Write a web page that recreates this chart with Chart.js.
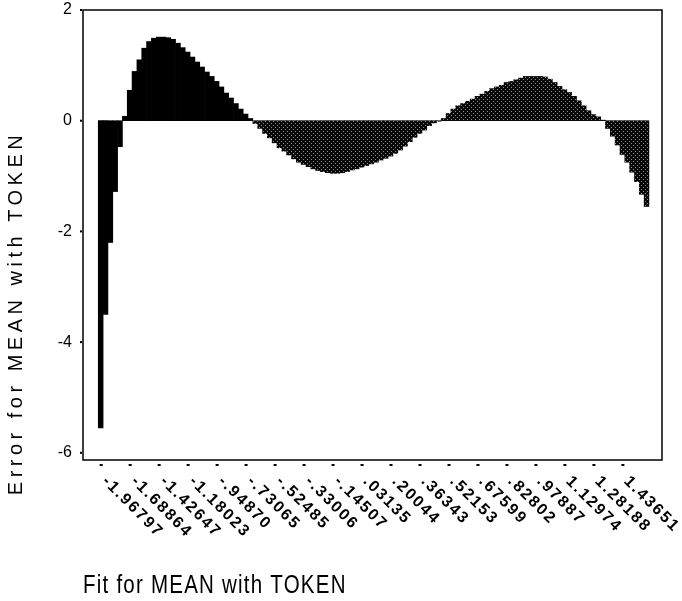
<!DOCTYPE html>
<html>
<head>
<meta charset="utf-8">
<script src="https://cdn.jsdelivr.net/npm/chart.js@4.4.0/dist/chart.umd.min.js"></script>
<style>
  html, body { margin: 0; padding: 0; background: #fff; }
</style>
</head>
<body>
<canvas id="chart" width="682" height="601"></canvas>
<script>
// fitted values printed under the axis, one every 6 bars
var fitLabels = ['-1.96797', '-1.68864', '-1.42647', '-1.18023', '-.94870', '-.73065',
    '-.52485', '-.33006', '-.14507', '.03135', '.20044', '.36343', '.52153', '.67599',
    '.82802', '.97887', '1.12974', '1.28188', '1.43651'];
var labelStep = 6;

// error for each fitted value, left to right
var errorValues = [
    -5.55, -3.50, -2.20, -1.28, -0.47, 0.08, 0.55, 0.89, 1.10, 1.31,
    1.43, 1.49, 1.51, 1.51, 1.50, 1.47, 1.40, 1.32, 1.24, 1.15,
    1.06, 0.97, 0.88, 0.80, 0.71, 0.61, 0.50, 0.41, 0.31, 0.21,
    0.12, 0.04, -0.05, -0.14, -0.23, -0.31, -0.40, -0.49, -0.55, -0.62,
    -0.69, -0.75, -0.79, -0.83, -0.87, -0.90, -0.92, -0.94, -0.95, -0.95,
    -0.94, -0.92, -0.89, -0.87, -0.84, -0.81, -0.78, -0.75, -0.71, -0.68,
    -0.64, -0.59, -0.53, -0.46, -0.38, -0.30, -0.23, -0.17, -0.09, -0.04,
    -0.01, 0.04, 0.13, 0.21, 0.27, 0.31, 0.35, 0.39, 0.44, 0.48,
    0.53, 0.58, 0.61, 0.64, 0.69, 0.71, 0.74, 0.77, 0.80, 0.80,
    0.80, 0.80, 0.79, 0.75, 0.69, 0.62, 0.56, 0.51, 0.44, 0.36,
    0.27, 0.18, 0.11, 0.07, 0.01, -0.14, -0.28, -0.44, -0.61, -0.75,
    -0.93, -1.10, -1.33, -1.55
];

var yTicks = [-6, -4, -2, 0, 2];
var xTitle = 'Fit for MEAN with TOKEN';
var yTitle = 'Error for MEAN with TOKEN';

// dithered dark fill like the old printout
function speckle() {
    var c = document.createElement('canvas');
    c.width = 4; c.height = 4;
    var g = c.getContext('2d');
    g.fillStyle = '#080808'; g.fillRect(0, 0, 4, 4);
    g.fillStyle = '#8c8c8c'; g.fillRect(1, 1, 1, 1); g.fillRect(3, 3, 1, 1);
    return g.createPattern(c, 'repeat');
}
var dots = speckle();

var decor = {
    id: 'decor',
    afterDraw: function (chart) {
        var ctx = chart.ctx, a = chart.chartArea;
        var xs = chart.scales.x, ys = chart.scales.y;
        ctx.save();
        ctx.strokeStyle = '#000';
        ctx.lineWidth = 1.5;
        ctx.strokeRect(a.left, a.top, a.right - a.left, a.bottom - a.top);

        ctx.fillStyle = '#000';
        yTicks.forEach(function (t) {
            var y = ys.getPixelForValue(t);
            ctx.fillRect(a.left - 3, y - 1, 2, 2);
        });

        fitLabels.forEach(function (lab, k) {
            var x = xs.getPixelForValue(k * labelStep);
            ctx.fillRect(x - 1, a.bottom + 4, 3, 2);
            ctx.save();
            ctx.translate(x + 4, a.bottom + 19);
            ctx.rotate(Math.PI / 4);
            ctx.font = 'bold 16px "Liberation Sans", Arial, sans-serif';
            ctx.letterSpacing = '2px';
            ctx.textAlign = 'left';
            ctx.textBaseline = 'middle';
            ctx.fillText(lab, 0, 0);
            ctx.restore();
        });

        // axis titles
        ctx.save();
        ctx.translate(16, 313);
        ctx.rotate(-Math.PI / 2);
        ctx.font = '20px "Liberation Sans", Arial, sans-serif';
        ctx.letterSpacing = '4.5px';
        ctx.textAlign = 'center';
        ctx.textBaseline = 'middle';
        ctx.fillText(yTitle, 0, 0);
        ctx.restore();

        ctx.save();
        ctx.translate(a.left, 593);
        ctx.scale(0.82, 1);
        ctx.font = '25px "Liberation Sans", Arial, sans-serif';
        ctx.letterSpacing = '1.5px';
        ctx.textAlign = 'left';
        ctx.textBaseline = 'alphabetic';
        ctx.fillText(xTitle, 0, 0);
        ctx.restore();
        ctx.restore();
    }
};

new Chart(document.getElementById('chart'), {
    type: 'bar',
    data: {
        datasets: [{
            data: errorValues.map(function (v, i) { return { x: i, y: v }; }),
            backgroundColor: errorValues.map(function (v, i) { return i <= 31 ? '#000' : dots; }),
            borderWidth: 0,
            barPercentage: 1.0,
            categoryPercentage: 1.0
        }]
    },
    options: {
        responsive: false,
        animation: false,
        devicePixelRatio: 1,
        layout: { padding: { top: 10, right: 20, bottom: 0, left: 0 } },
        plugins: { legend: { display: false }, tooltip: { enabled: false } },
        scales: {
            x: {
                type: 'linear',
                offset: false,
                min: -3.66,
                max: 116.2,
                grid: { display: false },
                border: { display: false },
                ticks: { display: false },
                afterFit: function (s) { s.height = 141; }
            },
            y: {
                min: -6.13,
                max: 2,
                grid: { display: false, drawTicks: false },
                border: { display: false },
                afterBuildTicks: function (s) {
                    s.ticks = yTicks.map(function (v) { return { value: v }; });
                },
                ticks: {
                    padding: 11,
                    color: '#000',
                    font: { family: '"Liberation Sans Narrow", "Liberation Sans", sans-serif', size: 16 }
                },
                afterFit: function (s) { s.width = 83; s.paddingTop = 0; s.paddingBottom = 0; }
            }
        }
    },
    plugins: [decor]
});
</script>
</body>
</html>
